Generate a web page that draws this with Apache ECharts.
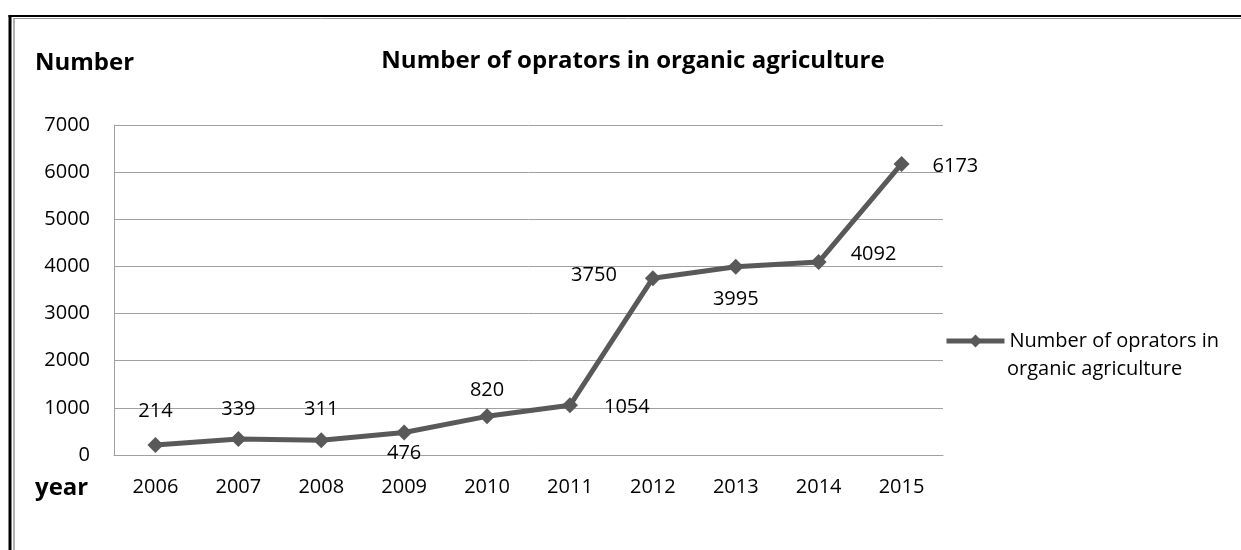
<!DOCTYPE html>
<html>
<head>
<meta charset="utf-8">
<script src="https://cdn.jsdelivr.net/npm/echarts@6/dist/echarts.min.js"></script>
<style>
html,body{margin:0;padding:0;background:#fff;}
#chart{width:1241px;height:550px;}
</style>
</head>
<body>
<div id="chart"></div>
<script>
const years = ['2006','2007','2008','2009','2010','2011','2012','2013','2014','2015'];
const operators = [214, 339, 311, 476, 820, 1054, 3750, 3995, 4092, 6173];
const labelPositions = ['top','top','top','bottom','top','right','left','bottom','right','right'];
const yTicks = [0, 1000, 2000, 3000, 4000, 5000, 6000, 7000];
const seriesName = 'Number of oprators in organic agriculture';
const legendLine1 = 'Number of oprators in';
const legendLine2 = 'organic agriculture';
const titleText = 'Number of oprators in organic agriculture';

const FONT = '"Open Sans", "Liberation Sans", sans-serif';
const chart = echarts.init(document.getElementById('chart'), null, {renderer: 'canvas'});

// label placement tweaks (style only)
const labelDistances = [16, 12, 13, 3, 8, 26, 28, 15, 24, 23];
const labelOffsets = [[0,0],[0,0],[0,0],[0,0],[0,0],[0,2],[0,-3],[0,0],[0,-8],[0,2]];

const data = operators.map((v, i) => ({
  value: v,
  label: {position: labelPositions[i], distance: labelDistances[i], offset: labelOffsets[i]}
}));

chart.setOption({
  animation: false,
  backgroundColor: '#ffffff',
  title: {
    text: titleText,
    left: 628,
    textAlign: 'center',
    top: 44,
    textStyle: {fontFamily: FONT, fontWeight: 'bold', fontSize: 24, color: '#000'}
  },
  legend: {
    show: true,
    left: 944,
    top: 327,
    padding: 0,
    orient: 'vertical',
    itemWidth: 58,
    itemHeight: 16,
    itemGap: 0,
    formatter: () => legendLine1,
    lineStyle: {width: 5, color: '#595959'},
    itemStyle: {color: '#595959'},
    textStyle: {fontFamily: FONT, fontSize: 20, color: '#000', lineHeight: 28},
    data: [seriesName]
  },
  grid: {left: 114, right: 298, top: 125, bottom: 95, containLabel: false},
  xAxis: {
    type: 'category',
    data: years,
    boundaryGap: true,
    axisLine: {show: true, lineStyle: {color: '#a0a0a0', width: 1}},
    axisTick: {show: false},
    axisLabel: {fontFamily: FONT, fontSize: 20, color: '#000', margin: 22},
    splitLine: {show: false}
  },
  yAxis: {
    type: 'value',
    min: 0,
    max: 7000,
    interval: 1000,
    axisLine: {show: true, lineStyle: {color: '#a0a0a0', width: 1}},
    axisTick: {show: false},
    axisLabel: {fontFamily: FONT, fontSize: 20, color: '#000', margin: 24,
      formatter: v => yTicks.includes(v) ? String(v) : ''},
    splitLine: {show: true, lineStyle: {color: '#a0a0a0', width: 1}}
  },
  series: [{
    name: seriesName,
    type: 'line',
    data: data,
    symbol: 'diamond',
    symbolSize: 16,
    showAllSymbol: true,
    lineStyle: {color: '#595959', width: 5},
    itemStyle: {color: '#595959'},
    label: {show: true, fontFamily: FONT, fontSize: 20, color: '#000'},
    z: 3
  }],
  graphic: [
    {type: 'text', left: 35, top: 51, style: {text: 'Number', fontFamily: FONT, fontWeight: 'bold', fontSize: 24, fill: '#000'}},
    {type: 'text', left: 35, top: 476, style: {text: 'year', fontFamily: FONT, fontWeight: 'bold', fontSize: 24, fill: '#000'}},
    {type: 'text', left: 1007, top: 355, style: {text: legendLine2, fontFamily: FONT, fontSize: 20, lineHeight: 28, fill: '#000'}},
    {type: 'line', shape: {x1: 10, y1: 15, x2: 10, y2: 550}, style: {stroke: '#000', lineWidth: 3}},
    {type: 'line', shape: {x1: 8.5, y1: 16, x2: 1241, y2: 16}, style: {stroke: '#000', lineWidth: 2}},
    {type: 'line', shape: {x1: 14, y1: 18, x2: 14, y2: 550}, style: {stroke: '#999', lineWidth: 1.5}},
    {type: 'line', shape: {x1: 14, y1: 18.5, x2: 1241, y2: 18.5}, style: {stroke: '#999', lineWidth: 1}}
  ]
});
</script>
</body>
</html>
